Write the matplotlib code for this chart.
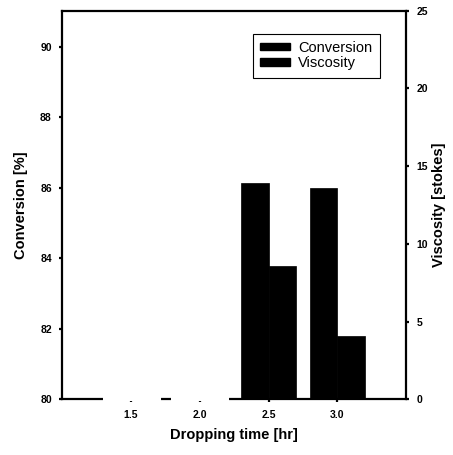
import numpy as np
import matplotlib
matplotlib.use("Agg")
import matplotlib.pyplot as plt

plt.rcParams["font.family"] = ["Liberation Sans", "DejaVu Sans"]

# dropping time [hr] and the two measured responses
dropping_time = np.array([1.5, 2.0, 2.5, 3.0])
conversion = np.array([86.5, 84.5, 86.13, 86.0])   # %
viscosity = np.array([17.5, 10.0, 8.6, 4.07])      # stokes
bar_colors = ["white", "white", "black", "black"]
edge_widths = [2.2, 2.2, 0.5, 0.5]

x_ticks = [1.5, 2.0, 2.5, 3.0]
conv_ticks = [80, 82, 84, 86, 88, 90]
visc_ticks = [0, 5, 10, 15, 20, 25]

width = 0.2
conv_floor = 80

fig = plt.figure(figsize=(4.53, 4.55), dpi=100)
ax = fig.add_axes([0.1375, 0.1224, 0.7587, 0.8541])
ax2 = ax.twinx()

ax.bar(dropping_time, conversion - conv_floor, bottom=conv_floor, width=-width,
       align="edge", color=bar_colors, edgecolor=bar_colors,
       linewidth=edge_widths, zorder=3, clip_on=False)
ax2.bar(dropping_time, viscosity, width=width, align="edge",
        color=bar_colors, edgecolor=bar_colors,
        linewidth=edge_widths, zorder=3, clip_on=False)

ax.set_xlim(1.0, 3.5)
ax.set_ylim(80, 91.02)
ax2.set_ylim(0, 25)

ax.set_xticks(x_ticks)
ax.set_xticklabels([f"{t:.1f}" for t in x_ticks])
ax.set_yticks(conv_ticks)
ax2.set_yticks(visc_ticks)

for a in (ax, ax2):
    for s in a.spines.values():
        s.set_linewidth(1.6)
    a.tick_params(direction="out", length=2.5, width=1.6, labelsize=7.5, pad=5)
    for lbl in a.get_xticklabels() + a.get_yticklabels():
        lbl.set_fontweight("bold")

for side in ("top", "bottom", "left"):
    ax2.spines[side].set_visible(False)
ax.spines["right"].set_visible(False)

ax.set_xlabel("Dropping time [hr]", fontsize=10.5, fontweight="bold", labelpad=6)
ax.set_ylabel("Conversion [%]", fontsize=10.5, fontweight="bold", labelpad=9)
ax2.set_ylabel("Viscosity [stokes]", fontsize=10.5, fontweight="bold", labelpad=3)

handles = [plt.Rectangle((0, 0), 1, 1, color="black"),
           plt.Rectangle((0, 0), 1, 1, color="black")]
leg = ax2.legend(handles, ["Conversion", "Viscosity"], loc="upper right",
                 bbox_to_anchor=(0.945, 0.96), fontsize=10.5, frameon=True,
                 fancybox=False, edgecolor="black", framealpha=1,
                 handlelength=2.0, handleheight=0.4, handletextpad=0.6,
                 labelspacing=0.1, borderpad=0.5)
leg.get_frame().set_linewidth(0.8)

fig.savefig("out.png", dpi=100)
